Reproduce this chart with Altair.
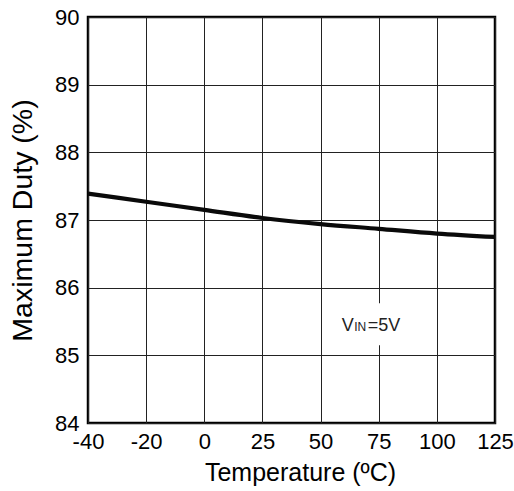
import altair as alt
import pandas as pd

# Data
temps = [-40, -20, 0, 25, 50, 75, 100, 125]
duty = [87.39, 87.27, 87.15, 87.03, 86.94, 86.87, 86.80, 86.75]
y_ticks = [84, 85, 86, 87, 88, 89, 90]

# annotation
ann_x = [75]
ann_y = [85.36]
box_x = [56, 86]
box_y = [85.15, 85.77]

W, H = 407, 406
FONT = "Liberation Sans"

df = pd.DataFrame({"t": temps, "d": duty})
ann = pd.DataFrame({"t": ann_x, "d": ann_y})
box = pd.DataFrame({"t": [box_x[0]], "t2": [box_x[1]], "d": [box_y[0]], "d2": [box_y[1]]})

x_scale = alt.Scale(domain=temps, range=[W * i / 7 for i in range(8)], type="linear")
y_scale = alt.Scale(domain=[84, 90], nice=False, zero=False)

x_axis = alt.Axis(values=temps, title="Temperature (ºC)", grid=True, ticks=False,
                  labelExpr="'' + datum.value",
                  labelFontSize=22, titleFontSize=25, labelPadding=8, titlePadding=8,
                  labelFlush=False, titleX=212)
y_axis = alt.Axis(values=y_ticks, title="Maximum Duty (%)", grid=True, ticks=False,
                  labelFontSize=22, titleFontSize=28.5, labelPadding=9, titlePadding=17)

base_x = alt.X("t:Q", scale=x_scale, axis=x_axis)
base_y = alt.Y("d:Q", scale=y_scale, axis=y_axis)

line = alt.Chart(df).mark_line(interpolate="monotone", strokeWidth=4.2, color="#0a0a0a").encode(
    x=base_x, y=base_y
)

rect = alt.Chart(box).mark_rect(color="white").encode(
    x=alt.X("t:Q", scale=x_scale, axis=x_axis), x2="t2:Q",
    y=alt.Y("d:Q", scale=y_scale, axis=y_axis), y2="d2:Q"
)

def txt(s, size, dx):
    return alt.Chart(ann).mark_text(text=s, fontSize=size, font=FONT, align="left",
                                    baseline="alphabetic", dx=dx, color="#222222").encode(
        x=alt.X("t:Q", scale=x_scale, axis=x_axis), y=alt.Y("d:Q", scale=y_scale, axis=y_axis)
    )

chart = alt.layer(rect, line, txt("V", 18, -37), txt("IN", 12, -24.5), txt("=5V", 18, -11)).properties(
    width=W, height=H,
    autosize=alt.AutoSizeParams(type="none"),
    padding={"left": 88, "top": 17, "right": 19, "bottom": 68},
).configure_view(stroke="black", strokeWidth=2.5).configure_axis(
    domain=False, gridColor="#222222", gridWidth=1, gridOpacity=1,
    labelFont=FONT, titleFont=FONT, labelColor="black", titleColor="black",
    titleFontWeight="normal"
)

chart.save("out.html", embed_options={"renderer": "svg", "actions": False})
